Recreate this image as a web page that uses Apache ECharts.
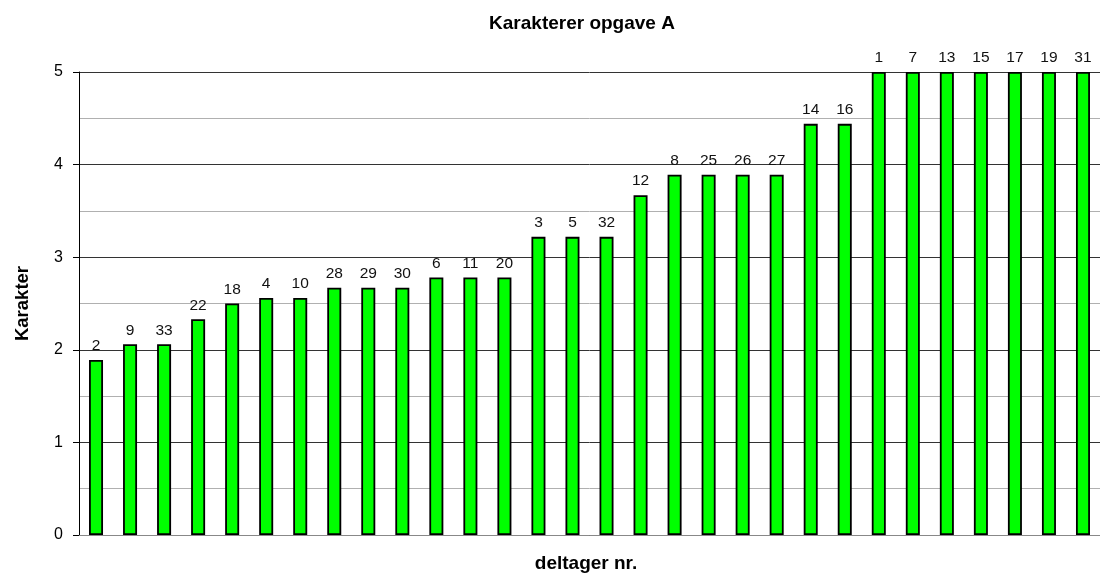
<!DOCTYPE html>
<html>
<head>
<meta charset="utf-8">
<script src="https://cdn.jsdelivr.net/npm/echarts@6/dist/echarts.min.js"></script>
<style>html,body{margin:0;padding:0;background:#fff}#c{width:1100px;height:574px}</style>
</head>
<body>
<div id="c"></div>
<script>
const participants = ['2','9','33','22','18','4','10','28','29','30','6','11','20','3','5','32','12','8','25','26','27','14','16','1','7','13','15','17','19','31'];
const grades = [1.89,2.06,2.06,2.33,2.5,2.56,2.56,2.67,2.67,2.67,2.78,2.78,2.78,3.22,3.22,3.22,3.67,3.89,3.89,3.89,3.89,4.44,4.44,5,5,5,5,5,5,5];
const yTicks = [0,1,2,3,4,5];

const FONT = 'Liberation Sans, Arial, sans-serif';
const chart = echarts.init(document.getElementById('c'));
chart.setOption({
  animation: false,
  textStyle: { fontFamily: FONT },
  title: [
    { text: 'Karakterer opgave A', left: 577, top: 9, textAlign: 'center',
      textStyle: { fontSize: 19, fontWeight: 'bold', color: '#000', fontFamily: FONT } },
    { text: 'deltager nr.', left: 581, top: 549, textAlign: 'center',
      textStyle: { fontSize: 19, fontWeight: 'bold', color: '#000', fontFamily: FONT } }
  ],
  grid: { left: 79, top: 72, width: 1023, bottom: 39, containLabel: false },
  xAxis: {
    type: 'category',
    data: participants,
    axisLine: { show: true, lineStyle: { color: '#888', width: 1 } },
    axisTick: { show: false },
    axisLabel: { show: false },
    splitLine: { show: false }
  },
  yAxis: {
    type: 'value',
    min: 0, max: 5, interval: 1,
    name: 'Karakter', nameLocation: 'middle', nameGap: 47, nameRotate: 90,
    nameTextStyle: { fontSize: 18.5, fontWeight: 'bold', color: '#000' },
    axisLine: { show: true, lineStyle: { color: '#000', width: 1 } },
    axisTick: { show: true, inside: false, length: 6, lineStyle: { color: '#000' } },
    axisLabel: { fontSize: 16, color: '#000', margin: 16,
      formatter: v => yTicks.includes(v) ? String(v) : '' },
    splitLine: { show: true, lineStyle: { color: '#333', width: 1 } },
    minorTick: { show: false, splitNumber: 2 },
    minorSplitLine: { show: true, lineStyle: { color: '#b0b0b0', width: 1 } }
  },
  series: [{
    type: 'bar',
    data: grades,
    barWidth: 14,
    itemStyle: { color: '#00ff00', borderColor: '#000', borderWidth: 1.8 },
    label: {
      show: true, position: 'top', distance: 6,
      formatter: p => participants[p.dataIndex],
      fontSize: 15.5, color: '#111'
    }
  }]
});
</script>
</body>
</html>
